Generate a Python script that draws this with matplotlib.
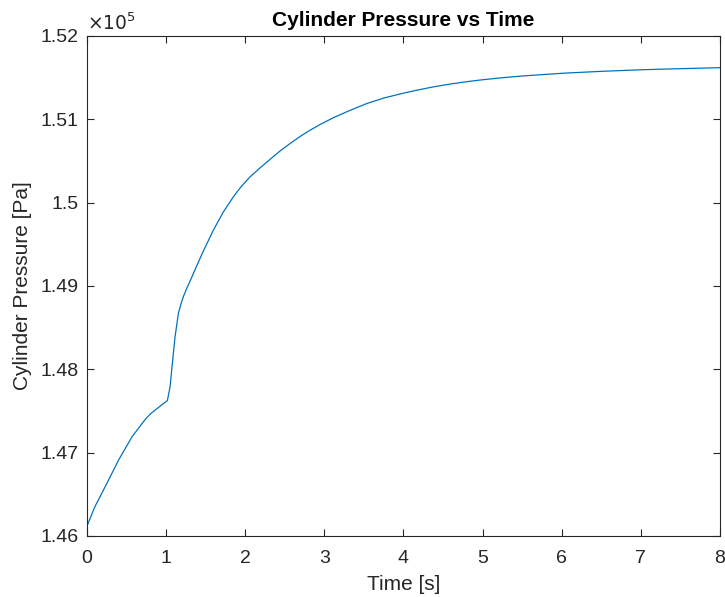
import matplotlib.pyplot as plt
from matplotlib.ticker import FuncFormatter

plt.rcParams['font.family'] = ['Liberation Sans', 'DejaVu Sans']

# cylinder pressure trace (time in s, pressure in Pa)
waktu = [0.0, 0.10, 0.23, 0.40, 0.57, 0.73, 0.80, 0.90, 0.96, 1.016,
         1.05, 1.083, 1.113, 1.155, 1.19, 1.218, 1.26, 1.303, 1.40, 1.471,
         1.597, 1.724, 1.85, 1.95, 2.061, 2.19, 2.314, 2.44, 2.567, 2.694,
         2.82, 2.95, 3.115, 3.33, 3.537, 3.75, 3.959, 4.17, 4.38, 4.60,
         4.80, 5.0, 5.223, 5.50, 6.01, 6.50, 7.01, 7.50, 8.0]
tekanan = [146120, 146352, 146592, 146912, 147192, 147392, 147464, 147540, 147585, 147624,
           147792, 148112, 148392, 148672, 148790, 148872, 148970, 149060, 149270, 149420,
           149670, 149890, 150070, 150195, 150310, 150420, 150520, 150620, 150710, 150795,
           150870, 150940, 151020, 151110, 151190, 151255, 151305, 151350, 151390, 151425,
           151452, 151475, 151497, 151520, 151553, 151576, 151595, 151608, 151620]

ytick_vals = [146000, 147000, 148000, 149000, 150000, 151000, 152000]
xtick_vals = [0, 1, 2, 3, 4, 5, 6, 7, 8]

warna_teks = '#262626'

fig = plt.figure(figsize=(7.25, 5.97), dpi=100)
ax = fig.add_axes([0.12, 0.1022, 0.8731, 0.8375])
ax.plot(waktu, tekanan, color='#0072BD', linewidth=0.9)

ax.set_xlim(0, 8)
ax.set_ylim(146000, 152000)
ax.set_xticks(xtick_vals)
ax.set_yticks(ytick_vals)
ax.yaxis.set_major_formatter(FuncFormatter(lambda v, pos: f"{v / 1e5:g}"))

ax.tick_params(direction='in', length=5, width=0.8, colors=warna_teks,
               labelsize=14, top=True, right=True, pad=6)
ax.tick_params(axis='x', pad=10)
for s in ax.spines.values():
    s.set_color(warna_teks)
    s.set_linewidth(0.8)

ax.text(0.0, 1.003, r'$\times10^{5}$', transform=ax.transAxes, fontsize=13.5,
        color=warna_teks, ha='left', va='bottom')

ax.set_title('Cylinder Pressure vs Time', fontsize=15, fontweight='bold', pad=7)
ax.set_xlabel('Time [s]', fontsize=15, color=warna_teks, labelpad=6)
ax.set_ylabel('Cylinder Pressure [Pa]', fontsize=15, color=warna_teks, labelpad=6)

plt.savefig('out.png', dpi=100)
